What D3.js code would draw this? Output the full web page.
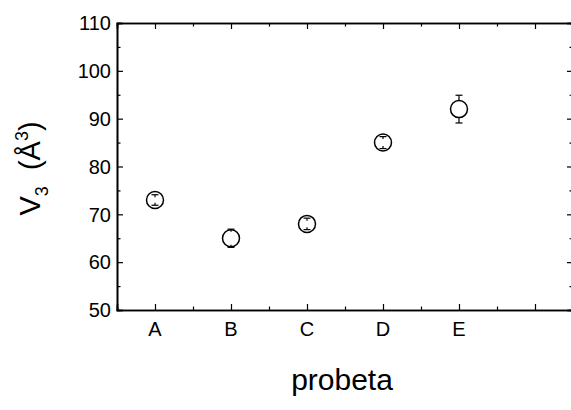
<!DOCTYPE html>
<html>
<head>
<meta charset="utf-8">
<script src="https://cdn.jsdelivr.net/npm/d3@7"></script>
<style>
  html, body { margin: 0; padding: 0; background: #fff; }
  text { font-family: Arial, "Liberation Sans", sans-serif; fill: #000; }
</style>
</head>
<body>
<svg id="chart" width="571" height="410"></svg>
<script>
const categories = ["A", "B", "C", "D", "E"];
const values = [73, 65, 68, 85, 92];
const errors = [1.1, 1.9, 1.2, 1.25, 2.9];
const yTicks = [50, 60, 70, 80, 90, 100, 110];

const svg = d3.select("#chart");
const margin = { left: 117, top: 23, right: 573, bottom: 310 };

const x = d3.scaleLinear().domain([0.5, 6.5]).range([margin.left, margin.right]);
const y = d3.scaleLinear().domain([50, 110]).range([margin.bottom, margin.top]);

const xMajor = d3.range(1, 7);
const xMinor = d3.range(1.5, 6.5, 1);
const yMinor = d3.range(55, 110, 10);
const majorLen = 6, minorLen = 3.5;
const R = 8.5;

const g = svg.append("g");

// Left axis (ticks inward)
g.append("g").attr("transform", `translate(${margin.left},0)`)
  .call(d3.axisRight(y).tickValues(yTicks).tickSize(majorLen).tickFormat(""));
g.append("g").attr("transform", `translate(${margin.left},0)`)
  .call(d3.axisRight(y).tickValues(yMinor).tickSize(minorLen).tickFormat(""));
g.append("g").selectAll("text").data(yTicks).join("text")
  .attr("x", margin.left - 6).attr("y", d => y(d)).attr("dy", "0.36em")
  .attr("text-anchor", "end").attr("font-size", 20).text(d => d);

// Right axis (ticks inward)
g.append("g").attr("transform", `translate(${margin.right},0)`)
  .call(d3.axisLeft(y).tickValues(yTicks).tickSize(majorLen).tickFormat(""));
g.append("g").attr("transform", `translate(${margin.right},0)`)
  .call(d3.axisLeft(y).tickValues(yMinor).tickSize(minorLen).tickFormat(""));

// Bottom axis (ticks inward)
g.append("g").attr("transform", `translate(0,${margin.bottom})`)
  .call(d3.axisTop(x).tickValues(xMajor).tickSize(majorLen).tickFormat(""));
g.append("g").attr("transform", `translate(0,${margin.bottom})`)
  .call(d3.axisTop(x).tickValues(xMinor).tickSize(minorLen).tickFormat(""));
g.append("g").selectAll("text").data(categories).join("text")
  .attr("x", (d, i) => x(i + 1)).attr("y", margin.bottom + 26)
  .attr("text-anchor", "middle").attr("font-size", 20).text(d => d);

// Top axis (ticks inward)
g.append("g").attr("transform", `translate(0,${margin.top})`)
  .call(d3.axisBottom(x).tickValues(xMajor).tickSize(majorLen).tickFormat(""));
g.append("g").attr("transform", `translate(0,${margin.top})`)
  .call(d3.axisBottom(x).tickValues(xMinor).tickSize(minorLen).tickFormat(""));

g.selectAll(".domain").attr("stroke", "#000").attr("stroke-width", 1.6);
g.selectAll(".tick line").attr("stroke", "#000").attr("stroke-width", 1.2);

// Data points with error bars (stubs from caps toward the symbol)
const pts = svg.append("g");
values.forEach((v, i) => {
  const cx = x(i + 1), cy = y(v);
  const yt = y(v + errors[i]), yb = y(v - errors[i]);
  const stub = Math.max(2.5, (cy - yt) - R);
  pts.append("line").attr("x1", cx).attr("x2", cx).attr("y1", yt).attr("y2", yt + stub)
    .attr("stroke", "#000").attr("stroke-width", 1.2);
  pts.append("line").attr("x1", cx).attr("x2", cx).attr("y1", yb).attr("y2", yb - stub)
    .attr("stroke", "#000").attr("stroke-width", 1.2);
  [yt, yb].forEach(yy => pts.append("line").attr("x1", cx - 3.5).attr("x2", cx + 3.5)
    .attr("y1", yy).attr("y2", yy).attr("stroke", "#000").attr("stroke-width", 1.2));
  pts.append("circle").attr("cx", cx).attr("cy", cy).attr("r", R)
    .attr("fill", "none").attr("stroke", "#000").attr("stroke-width", 1.5);
});

// Axis titles
svg.append("text").attr("x", (margin.left + margin.right) / 2 - 3).attr("y", 390)
  .attr("text-anchor", "middle").attr("font-size", 30).text("probeta");

const yl = svg.append("text")
  .attr("transform", `translate(40,${(margin.top + margin.bottom) / 2 + 2}) rotate(-90)`)
  .attr("text-anchor", "middle").attr("font-size", 29);
yl.append("tspan").text("V");
yl.append("tspan").attr("font-size", 18).attr("dy", 8).text("3");
yl.append("tspan").attr("dy", -8).attr("xml:space", "preserve").text("  (Å");
yl.append("tspan").attr("font-size", 18).attr("dy", -12).text("3");
yl.append("tspan").attr("dy", 12).text(")");
</script>
</body>
</html>
